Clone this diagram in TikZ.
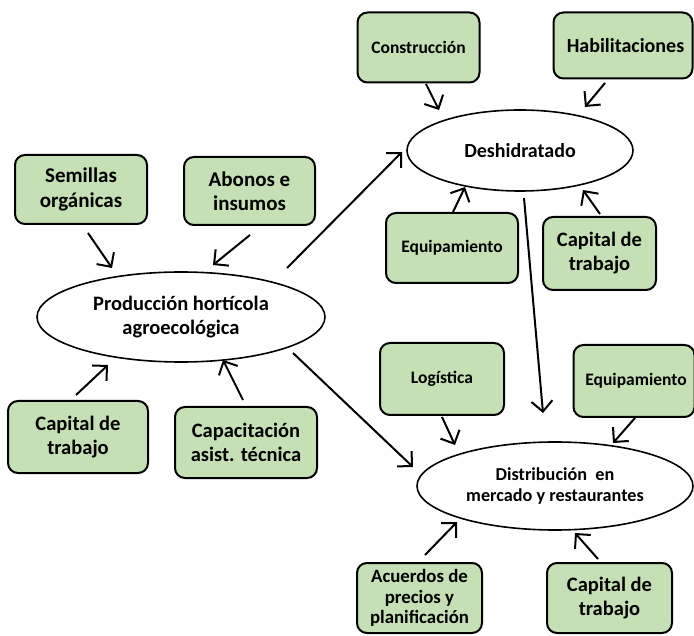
\documentclass[tikz,border=0pt]{standalone}
\usepackage{fontspec}
\setmainfont{Carlito}
\usetikzlibrary{arrows.meta,shapes.geometric}
\definecolor{boxgreen}{HTML}{C5E0B4}
\newcommand{\fs}[1]{\fontsize{#1}{1.17\dimexpr#1pt\relax}\selectfont}
\tikzset{
  gbox/.style={draw=black,line width=2pt,fill=boxgreen,rounded corners=10pt,
    inner sep=0pt,align=center},
  oval/.style={draw=black,line width=1.6pt,fill=white,ellipse,inner sep=0pt,
    align=center},
  sz/.style={font=\bfseries\fs{#1}},
  conn/.style={line width=2pt,-{Straight Barb[length=10.5pt,width=21pt]}},
}
\begin{document}
\begin{tikzpicture}[x=1pt,y=-1pt]
\useasboundingbox (0,0) rectangle (694,636);
% nodes
\node[gbox,sz=17.5,minimum width=122pt,minimum height=70pt] (cons) at (418.5,47.5) {Construcción};
\node[gbox,sz=20,minimum width=139pt,minimum height=66pt] (habi) at (623,45.5) {\hspace*{5pt}Habilitaciones};
\node[oval,sz=20,minimum width=226pt,minimum height=81pt] (desh) at (520,150.5) {Deshidratado};
\node[gbox,sz=17.5,minimum width=132pt,minimum height=70pt] (equa) at (452,248) {Equipamiento};
\node[gbox,sz=20.5,minimum width=113pt,minimum height=73pt] (capa) at (599.5,253.5) {Capital de\\trabajo};
\node[gbox,sz=21,minimum width=132pt,minimum height=69pt] (semi) at (81,189.5) {Semillas\\orgánicas};
\node[gbox,sz=21,minimum width=131pt,minimum height=68pt] (abon) at (249.5,191) {Abonos e\\insumos};
\node[oval,sz=20.5,minimum width=288pt,minimum height=90pt] (prod) at (181,317) {Producción hortícola\\agroecológica};
\node[gbox,sz=20.5,minimum width=140pt,minimum height=72pt] (capb) at (78,437) {Capital de\\trabajo};
\node[gbox,sz=20.5,minimum width=142pt,minimum height=71pt] (capt) at (246,442.5) {Capacitación\\asist. técnica};
\node[gbox,sz=17.5,minimum width=124pt,minimum height=72pt] (logi) at (442,379) {Logística};
\node[gbox,sz=17.5,minimum width=121pt,minimum height=72pt] (equb) at (634,381) {\hspace*{4pt}Equipamiento};
\node[oval,sz=18.2,minimum width=276pt,minimum height=88pt] (dist) at (555,486) {Distribución \ en\\mercado y restaurantes};
\node[gbox,font=\bfseries\fontsize{18.8}{20.5}\selectfont,minimum width=125pt,minimum height=70pt] (acue) at (419.5,598) {Acuerdos de\\precios y\\planificación};
\node[gbox,sz=20.5,minimum width=125pt,minimum height=70pt] (capc) at (609.5,598) {Capital de\\trabajo};
% connector end points
\coordinate (c1s) at (426,84);  \coordinate (c1e) at (439,110);
\coordinate (c2s) at (605,83);  \coordinate (c2e) at (585,107);
\coordinate (c3s) at (453,212); \coordinate (c3e) at (465,187);
\coordinate (c4s) at (600,214); \coordinate (c4e) at (583,190);
\coordinate (c5s) at (524,198); \coordinate (c5e) at (543,413);
\coordinate (c6s) at (287,268); \coordinate (c6e) at (402,152);
\coordinate (c7s) at (88,233);  \coordinate (c7e) at (112,268);
\coordinate (c8s) at (250,235); \coordinate (c8e) at (213,265);
\coordinate (c9s) at (76,395);  \coordinate (c9e) at (108,365);
\coordinate (c10s) at (243,400); \coordinate (c10e) at (223,360);
\coordinate (c11s) at (293,353); \coordinate (c11e) at (413,467);
\coordinate (c12s) at (442,417); \coordinate (c12e) at (455,445);
\coordinate (c13s) at (635,418); \coordinate (c13e) at (613,443);
\coordinate (c14s) at (425,555); \coordinate (c14e) at (457,522);
\coordinate (c15s) at (598,559); \coordinate (c15e) at (575,533);
% connectors
\draw[conn] (c1s) -- (c1e);
\draw[conn] (c2s) -- (c2e);
\draw[conn] (c3s) -- (c3e);
\draw[conn] (c4s) -- (c4e);
\draw[conn] (c5s) -- (c5e);
\draw[conn] (c6s) -- (c6e);
\draw[conn] (c7s) -- (c7e);
\draw[conn] (c8s) -- (c8e);
\draw[conn] (c9s) -- (c9e);
\draw[conn] (c10s) -- (c10e);
\draw[conn] (c11s) -- (c11e);
\draw[conn] (c12s) -- (c12e);
\draw[conn] (c13s) -- (c13e);
\draw[conn] (c14s) -- (c14e);
\draw[conn] (c15s) -- (c15e);
\end{tikzpicture}
\end{document}
